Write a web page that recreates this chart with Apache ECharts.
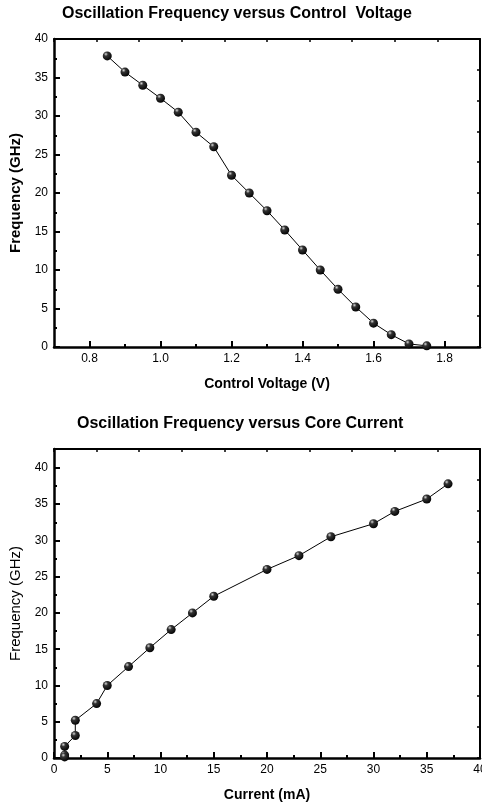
<!DOCTYPE html>
<html>
<head>
<meta charset="utf-8">
<script src="https://cdn.jsdelivr.net/npm/echarts@6/dist/echarts.min.js"></script>
<style>
  html, body { margin: 0; padding: 0; background: #fff; }
  #chart { width: 482px; height: 810px; }
</style>
</head>
<body>
<div id="chart"></div>
<script>
const voltage = [0.85, 0.90, 0.95, 1.00, 1.05, 1.10, 1.15, 1.20, 1.25, 1.30, 1.35, 1.40, 1.45, 1.50, 1.55, 1.60, 1.65, 1.70, 1.75]
const current = [37, 35, 32, 30, 26, 23, 20, 15, 13, 11, 9, 7, 5, 4, 2, 2, 1, 1, 1]
const freq = [37.8, 35.7, 34.0, 32.3, 30.5, 27.9, 26.0, 22.3, 20.0, 17.7, 15.2, 12.6, 10.0, 7.5, 5.2, 3.1, 1.6, 0.4, 0.15]

// tick values
const voltTicks = [0.8, 1.0, 1.2, 1.4, 1.6, 1.8]
const voltMinor = [0.9, 1.1, 1.3, 1.5, 1.7]
const currTicks = [0, 5, 10, 15, 20, 25, 30, 35, 40]
const currMinor = [2.5, 7.5, 12.5, 17.5, 22.5, 27.5, 32.5, 37.5]
const freqTicks = [0, 5, 10, 15, 20, 25, 30, 35, 40]
const freqMinor = [2.5, 7.5, 12.5, 17.5, 22.5, 27.5, 32.5, 37.5]

const FONT = 'Liberation Sans, Arial, sans-serif'
const lineStyle = { color: '#000', width: 2.5 }

const sphere = {
  type: 'radial', x: 0.35, y: 0.3, r: 0.75,
  colorStops: [
    { offset: 0, color: '#d8d8d8' },
    { offset: 0.3, color: '#333' },
    { offset: 1, color: '#000' }
  ]
}

// main axis with labels + long ticks
const mainAxis = (grid, min, max, labels, fmt, extra) => Object.assign({
  gridIndex: grid, type: 'value', min: min, max: max,
  axisLine: { show: true, onZero: false, lineStyle: lineStyle },
  axisTick: { show: true, inside: true, length: 6, customValues: labels, lineStyle: { color: '#000', width: 2 } },
  axisLabel: { show: true, customValues: labels, formatter: fmt, color: '#000', fontFamily: FONT, fontSize: 12, margin: 6, hideOverlap: false },
  splitLine: { show: false }
}, extra)

// extra axis carrying only the short minor ticks
const minorAxis = (grid, min, max, ticks, pos) => ({
  gridIndex: grid, type: 'value', min: min, max: max, position: pos,
  axisLine: { show: false, onZero: false },
  axisTick: { show: true, inside: true, length: 3, customValues: ticks, lineStyle: { color: '#000', width: 2 } },
  axisLabel: { show: false },
  splitLine: { show: false }
})

// mirror axis (top/right) with its own 10 divisions
const mirrorAxis = (grid, pos) => ({
  gridIndex: grid, type: 'value', min: 0, max: 10, interval: 1, position: pos,
  axisLine: { show: true, onZero: false, lineStyle: { color: '#000', width: 2 } },
  axisTick: { show: true, inside: true, length: 3, lineStyle: { color: '#000', width: 1.5 } },
  axisLabel: { show: false },
  splitLine: { show: false }
})

const chart = echarts.init(document.getElementById('chart'))
const option = {
  animation: false,
  backgroundColor: '#fff',
  title: [
    {
      text: 'Oscillation Frequency versus Control  Voltage',
      left: 62, top: 6, padding: 0,
      textStyle: { fontFamily: FONT, fontSize: 16, fontWeight: 'bold', color: '#000' }
    },
    {
      text: 'Oscillation Frequency versus Core Current',
      left: 77, top: 416, padding: 0,
      textStyle: { fontFamily: FONT, fontSize: 16, fontWeight: 'bold', color: '#000' }
    }
  ],
  grid: [
    { left: 54, right: 2, top: 39, height: 308, outerBoundsMode: 'none', containLabel: false },
    { left: 54, right: 2, top: 449, height: 309, outerBoundsMode: 'none', containLabel: false }
  ],
  xAxis: [
    mainAxis(0, 0.7, 1.9, voltTicks, v => v.toFixed(1), {
      position: 'bottom', name: 'Control Voltage (V)', nameLocation: 'middle', nameGap: 30,
      nameTextStyle: { fontFamily: FONT, fontSize: 14, fontWeight: 'bold', color: '#000' }
    }),
    minorAxis(0, 0.7, 1.9, voltMinor, 'bottom'),
    mirrorAxis(0, 'top'),
    mainAxis(1, 0, 40, currTicks, v => String(v), {
      position: 'bottom', name: 'Current (mA)', nameLocation: 'middle', nameGap: 30,
      nameTextStyle: { fontFamily: FONT, fontSize: 14, fontWeight: 'bold', color: '#000' }
    }),
    minorAxis(1, 0, 40, currMinor, 'bottom'),
    mirrorAxis(1, 'top')
  ],
  yAxis: [
    mainAxis(0, 0, 40, freqTicks, v => String(v), {
      position: 'left', name: 'Frequency (GHz)', nameLocation: 'middle', nameGap: 25,
      nameTextStyle: { fontFamily: FONT, fontSize: 15, fontWeight: 'bold', color: '#000' }
    }),
    minorAxis(0, 0, 40, freqMinor, 'left'),
    mirrorAxis(0, 'right'),
    mainAxis(1, 0, 42.6, freqTicks, v => String(v), {
      position: 'left', name: 'Frequency (GHz)', nameLocation: 'middle', nameGap: 25,
      nameTextStyle: { fontFamily: FONT, fontSize: 15, fontWeight: 'normal', color: '#000' }
    }),
    minorAxis(1, 0, 42.6, freqMinor, 'left'),
    mirrorAxis(1, 'right')
  ],
  series: [
    {
      type: 'line', xAxisIndex: 0, yAxisIndex: 0,
      data: voltage.map((v, i) => [v, freq[i]]),
      symbol: 'circle', symbolSize: 9,
      itemStyle: { color: sphere, borderWidth: 0 },
      lineStyle: { color: '#000', width: 1 },
      z: 3
    },
    {
      type: 'line', xAxisIndex: 3, yAxisIndex: 3,
      data: current.map((c, i) => [c, freq[i]]),
      symbol: 'circle', symbolSize: 9,
      itemStyle: { color: sphere, borderWidth: 0 },
      lineStyle: { color: '#000', width: 1 },
      z: 3
    }
  ]
}
chart.setOption(option)
</script>
</body>
</html>
